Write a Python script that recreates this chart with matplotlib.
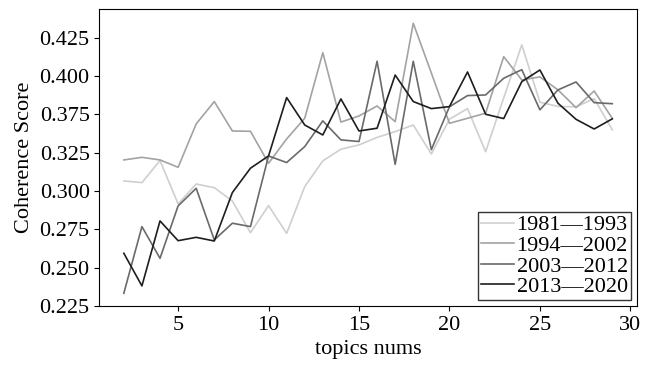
import matplotlib
matplotlib.use("Agg")
import matplotlib.pyplot as plt
from matplotlib.ticker import FixedLocator, FixedFormatter

plt.rcParams["font.family"] = ["Liberation Serif", "DejaVu Serif"]

topics = list(range(2, 30))

# coherence per number of topics, one list per period
c_1981_1993 = [0.3066, 0.3055, 0.3199, 0.2916, 0.3046, 0.3022, 0.2935, 0.2728, 0.2905, 0.2724,
               0.3029, 0.3197, 0.3273, 0.3301, 0.3350, 0.3388, 0.3431, 0.3242, 0.3469, 0.3538,
               0.3257, 0.3608, 0.3954, 0.3580, 0.3552, 0.3550, 0.3603, 0.3400]
c_1994_2002 = [0.3203, 0.3220, 0.3203, 0.3155, 0.3438, 0.3584, 0.3392, 0.3390, 0.3181, 0.3340,
               0.3475, 0.3903, 0.3450, 0.3490, 0.3555, 0.3453, 0.4095, 0.3770, 0.3442, 0.3475,
               0.3508, 0.3877, 0.3725, 0.3745, 0.3660, 0.3544, 0.3653, 0.3475]
c_2003_2012 = [0.2333, 0.2768, 0.2561, 0.2903, 0.3018, 0.2681, 0.2790, 0.2768, 0.3229, 0.3186,
               0.3290, 0.3458, 0.3334, 0.3323, 0.3847, 0.3174, 0.3847, 0.3270, 0.3550, 0.3623,
               0.3627, 0.3736, 0.3792, 0.3530, 0.3660, 0.3712, 0.3577, 0.3570]
c_2013_2020 = [0.2594, 0.2381, 0.2805, 0.2676, 0.2698, 0.2674, 0.2990, 0.3149, 0.3229, 0.3610,
               0.3431, 0.3366, 0.3601, 0.3392, 0.3410, 0.3757, 0.3584, 0.3538, 0.3551, 0.3777,
               0.3501, 0.3473, 0.3714, 0.3790, 0.3573, 0.3468, 0.3405, 0.3471]

labels = ["1981\u20141993", "1994\u20142002", "2003\u20142012", "2013\u20142020"]
colors = ["#cfcfcf", "#a3a3a3", "#6a6a6a", "#1e1e1e"]

ytick_pos = [0.225, 0.250, 0.275, 0.300, 0.325, 0.350, 0.375, 0.400]
ytick_labels = ["0.225", "0.250", "0.275", "0.300", "0.325", "0.375", "0.400", "0.425"]

FS = 16

fig = plt.figure(figsize=(6.54, 3.66), dpi=100)
ax = fig.add_axes([0.152, 0.164, 0.8215, 0.811])

for series, lab, col in zip([c_1981_1993, c_1994_2002, c_2003_2012, c_2013_2020], labels, colors):
    ax.plot(topics, series, color=col, lw=1.2, label=lab)

ax.set_ylim(0.225, 0.4187)
ax.set_xticks([5, 10, 15, 20, 25, 30])
ax.yaxis.set_major_locator(FixedLocator(ytick_pos))
ax.yaxis.set_major_formatter(FixedFormatter(ytick_labels))
ax.tick_params(labelsize=FS)
ax.set_xlabel("topics nums", fontsize=FS)
ax.set_ylabel("Coherence Score", fontsize=FS)

leg = ax.legend(loc="lower right", fontsize=FS, fancybox=False, edgecolor="black",
                handlelength=1.5, handletextpad=0.1, labelspacing=0.0, borderpad=0.15,
                borderaxespad=0.25)
leg.get_frame().set_linewidth(1.0)

fig.savefig("out.png", dpi=100)
